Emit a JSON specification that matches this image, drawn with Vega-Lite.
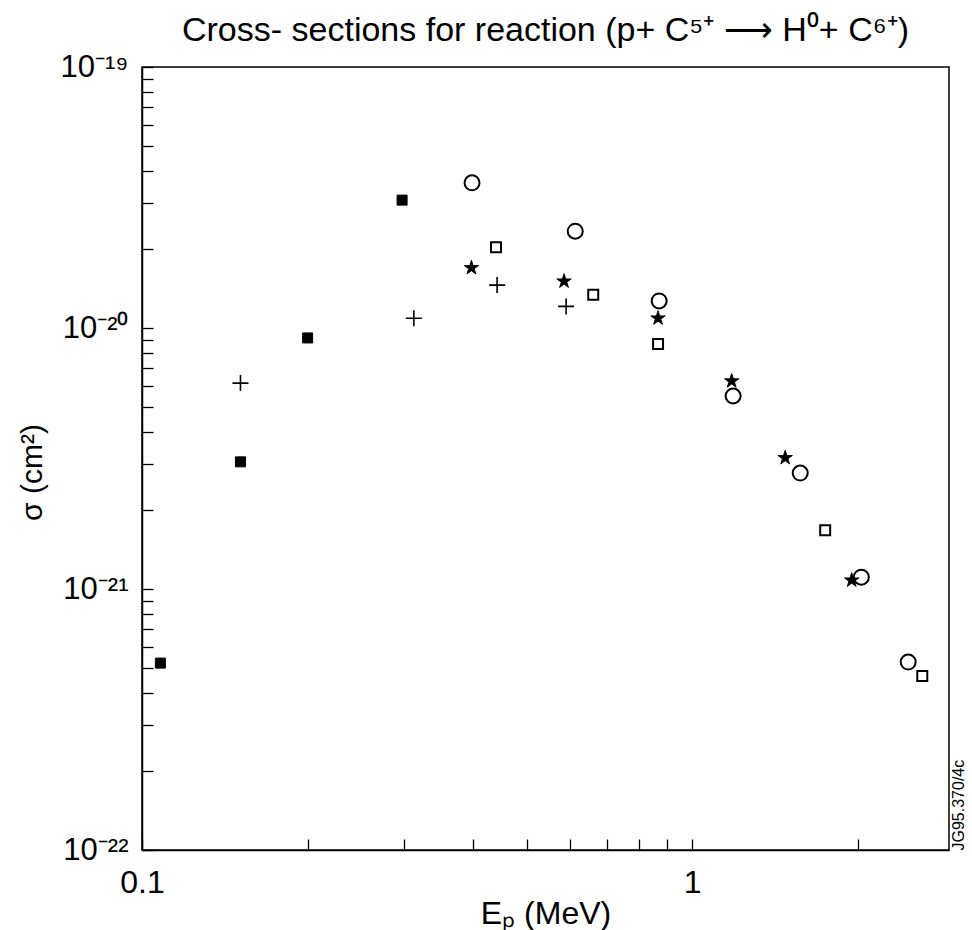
{
  "$schema": "https://vega.github.io/schema/vega-lite/v6.json",
  "autosize": "none",
  "width": 807,
  "height": 783,
  "padding": {"left": 142, "top": 67, "right": 23, "bottom": 80},
  "background": "white",
  "config": {
    "font": "Liberation Sans",
    "view": {"stroke": "black", "strokeWidth": 1.5},
    "axis": {"grid": false, "domainColor": "black", "tickColor": "black", "labelColor": "black", "titleColor": "black", "labelFont": "Liberation Sans", "titleFont": "Liberation Sans", "titleFontWeight": "normal"}
  },
  "title": {
    "text": "Cross- sections for reaction (p+ C⁵⁺ ⟶ H⁰+ C⁶⁺)",
    "font": "Liberation Sans",
    "fontSize": 34,
    "fontWeight": "normal",
    "color": "black",
    "anchor": "middle",
    "offset": 3
  },
  "data": {
    "values": [
      {"series": "filled square", "E": 0.108, "sigma": 5.2e-22},
      {"series": "filled square", "E": 0.151, "sigma": 3.07e-21},
      {"series": "filled square", "E": 0.2, "sigma": 9.16e-21},
      {"series": "filled square", "E": 0.297, "sigma": 3.09e-20},
      {"series": "plus", "E": 0.151, "sigma": 6.15e-21},
      {"series": "plus", "E": 0.312, "sigma": 1.09e-20},
      {"series": "plus", "E": 0.442, "sigma": 1.46e-20},
      {"series": "plus", "E": 0.59, "sigma": 1.21e-20},
      {"series": "star", "E": 0.397, "sigma": 1.7e-20},
      {"series": "star", "E": 0.585, "sigma": 1.51e-20},
      {"series": "star", "E": 0.867, "sigma": 1.09e-20},
      {"series": "star", "E": 1.18, "sigma": 6.26e-21},
      {"series": "star", "E": 1.476, "sigma": 3.18e-21},
      {"series": "star", "E": 1.95, "sigma": 1.08e-21},
      {"series": "circle", "E": 0.398, "sigma": 3.6e-20},
      {"series": "circle", "E": 0.613, "sigma": 2.35e-20},
      {"series": "circle", "E": 0.871, "sigma": 1.27e-20},
      {"series": "circle", "E": 1.187, "sigma": 5.49e-21},
      {"series": "circle", "E": 1.572, "sigma": 2.78e-21},
      {"series": "circle", "E": 2.03, "sigma": 1.11e-21},
      {"series": "circle", "E": 2.47, "sigma": 5.25e-22},
      {"series": "open square", "E": 0.44, "sigma": 2.04e-20},
      {"series": "open square", "E": 0.661, "sigma": 1.34e-20},
      {"series": "open square", "E": 0.867, "sigma": 8.68e-21},
      {"series": "open square", "E": 1.745, "sigma": 1.68e-21},
      {"series": "open square", "E": 2.62, "sigma": 4.64e-22}
    ]
  },
  "resolve": {"axis": {"y": "independent"}},
  "layer": [
    {
      "mark": {"type": "point", "stroke": "black", "opacity": 1, "strokeOpacity": 1, "fillOpacity": 1},
      "encoding": {
        "x": {
          "field": "E", "type": "quantitative",
          "scale": {"type": "log", "domain": [0.1, 2.93], "nice": false},
          "axis": {
            "title": "Eₚ (MeV)",
            "titleFontSize": 32,
            "titlePadding": 0,
            "values": [0.1, 0.2, 0.3, 0.4, 0.5, 0.6, 0.7, 0.8, 0.9, 1, 2],
            "labelExpr": "datum.value == 0.1 ? '0.1' : (datum.value == 1 ? '1' : '')",
            "labelFontSize": 32,
            "labelPadding": 28,
            "tickSize": -11,
            "tickWidth": 1.3,
            "domainWidth": 1.5,
            "labelFlush": false,
            "labelOverlap": false
          }
        },
        "y": {
          "field": "sigma", "type": "quantitative",
          "scale": {"type": "log", "domain": [1e-22, 1e-19], "nice": false},
          "axis": {
            "title": "σ (cm²)",
            "titleFontSize": 30,
            "titlePadding": 12,
            "titleY": 405,
            "values": [1e-22, 2e-22, 3e-22, 4e-22, 5e-22, 6e-22, 7e-22, 8e-22, 9e-22, 1e-21, 2e-21, 3e-21, 4e-21, 5e-21, 6e-21, 7e-21, 8e-21, 9e-21, 1e-20, 2e-20, 3e-20, 4e-20, 5e-20, 6e-20, 7e-20, 8e-20, 9e-20, 1e-19],
            "labelExpr": "datum.value == 1e-22 ? '10⁻²²' : (datum.value == 1e-21 ? '10⁻²¹' : (datum.value == 1e-20 ? '10⁻²⁰' : (datum.value == 1e-19 ? '10⁻¹⁹' : '')))",
            "labelFontSize": 31,
            "labelPadding": 25,
            "tickSize": -11,
            "tickWidth": 1.3,
            "domainWidth": 1.5,
            "labelFlush": false,
            "labelOverlap": false
          }
        },
        "shape": {
          "field": "series", "type": "nominal", "legend": null,
          "scale": {
            "domain": ["filled square", "plus", "star", "circle", "open square"],
            "range": ["square", "M-1,0H1M0,-1V1", "M0,-1L0.2245,-0.309L0.951,-0.309L0.363,0.118L0.588,0.809L0,0.382L-0.588,0.809L-0.363,0.118L-0.951,-0.309L-0.2245,-0.309Z", "circle", "square"]
          }
        },
        "fill": {
          "field": "series", "type": "nominal", "legend": null,
          "scale": {
            "domain": ["filled square", "plus", "star", "circle", "open square"],
            "range": ["black", "transparent", "black", "transparent", "transparent"]
          }
        },
        "size": {
          "field": "series", "type": "nominal", "legend": null,
          "scale": {
            "type": "ordinal",
            "domain": ["filled square", "plus", "star", "circle", "open square"],
            "range": [100, 256, 230, 225, 100]
          }
        },
        "strokeWidth": {
          "field": "series", "type": "nominal", "legend": null,
          "scale": {
            "type": "ordinal",
            "domain": ["filled square", "plus", "star", "circle", "open square"],
            "range": [1, 1.6, 0.9, 2, 2]
          }
        }
      }
    },
    {
      "mark": {"type": "point", "opacity": 0},
      "encoding": {
        "y": {
          "field": "sigma", "type": "quantitative",
          "axis": {
            "orient": "right",
            "title": "JG95.370/4c",
            "titleFontSize": 16,
            "titleAngle": 270,
            "titleAnchor": "start",
            "titlePadding": 17,
            "labels": false,
            "ticks": false,
            "domain": false
          }
        }
      }
    }
  ]
}
